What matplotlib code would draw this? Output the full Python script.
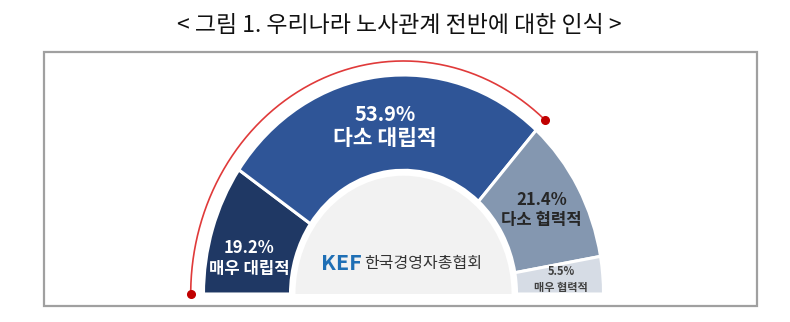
import numpy as np
import matplotlib
matplotlib.use("Agg")
import matplotlib.pyplot as plt
from matplotlib import patches

plt.rcParams['font.family'] = ['Noto Sans CJK KR', 'DejaVu Sans']

# survey shares (%), left to right along the half ring
categories = ["매우 대립적", "다소 대립적", "다소 협력적", "매우 협력적"]
shares = [19.2, 53.9, 21.4, 5.5]
pct_labels = ["19.2%", "53.9%", "21.4%", "5.5%"]
colors = ["#1F3864", "#2F5597", "#8497B0", "#D6DCE5"]

W, H = 790, 322
fig = plt.figure(figsize=(W / 100, H / 100), dpi=100)

# title and outer frame in figure coords
fig.text(0.506, 1 - 26 / H, "< 그림 1. 우리나라 노사관계 전반에 대한 인식 >",
         ha="center", va="center", fontsize=16.5, color="#111111")
fig.patches.append(patches.Rectangle((44 / W, 1 - 306 / H), 713 / W, 254 / H,
                                     transform=fig.transFigure, fill=False,
                                     edgecolor="#A0A0A0", linewidth=1.6))

ax = fig.add_axes([0, 0, 1, 1])
total = sum(shares)
wedges, _ = ax.pie(shares + [total], startangle=180, counterclock=False,
                   colors=colors + ["white"], radius=1.0,
                   wedgeprops=dict(width=1.0 - 0.565, edgecolor="white", linewidth=2.2))
wedges[-1].set_visible(False)

# centre plate
ax.add_patch(patches.Wedge((0, 0), 0.54, 0, 180, facecolor="#F2F2F2",
                           edgecolor="none"))

# non-equal scaling: the ring is drawn slightly taller than wide
cx, cy = 403.5, 294.0
sx, sy = 200.0, 219.0
ax.set_aspect("auto")
ax.set_xlim(-cx / sx, (W - cx) / sx)
ax.set_ylim(-(H - cy) / sy, cy / sy)
ax.axis("off")

# red bracket over the "대립적" side
conflict_end = 180 - 180 * (shares[0] + shares[1]) / total
theta = np.radians(np.linspace(conflict_end, 180, 200))
rr = 1.064
ax.plot(rr * np.cos(theta), rr * np.sin(theta), color="#E03A3A", lw=1.2,
        solid_capstyle="butt")
ax.plot([rr * np.cos(theta[0]), rr * np.cos(theta[-1])],
        [rr * np.sin(theta[0]), rr * np.sin(theta[-1])],
        "o", color="#C00000", ms=5.5)

# wedge labels along each wedge's mid angle
label_r = [0.79, 0.77, 0.79, 0.79]
angle_nudge = [5.3, 0, 0, 0]
pct_size = [12, 14.5, 12, 8]
name_size = [12, 15.5, 12, 8]
gap = [0.048, 0.056, 0.045, 0.0365]
text_col = ["white", "white", "#262626", "#404040"]
start = 180.0
for i, s in enumerate(shares):
    span = 180 * s / total
    mid = np.radians(start - span / 2 + angle_nudge[i])
    start -= span
    x = label_r[i] * np.cos(mid)
    y = label_r[i] * np.sin(mid)
    ax.text(x, y + gap[i], pct_labels[i], ha="center", va="center",
            fontsize=pct_size[i], color=text_col[i], fontweight="bold")
    ax.text(x, y - gap[i], categories[i], ha="center", va="center",
            fontsize=name_size[i], color=text_col[i], fontweight="bold")

# association mark in the centre
ax.text(-0.21, 0.14, "KEF", ha="right", va="center", fontsize=15.5,
        fontweight="bold", color="#1F6FB5")
ax.text(-0.198, 0.14, "한국경영자총협회", ha="left", va="center", fontsize=11.5,
        color="#333333")

fig.savefig("out.png", dpi=100)
